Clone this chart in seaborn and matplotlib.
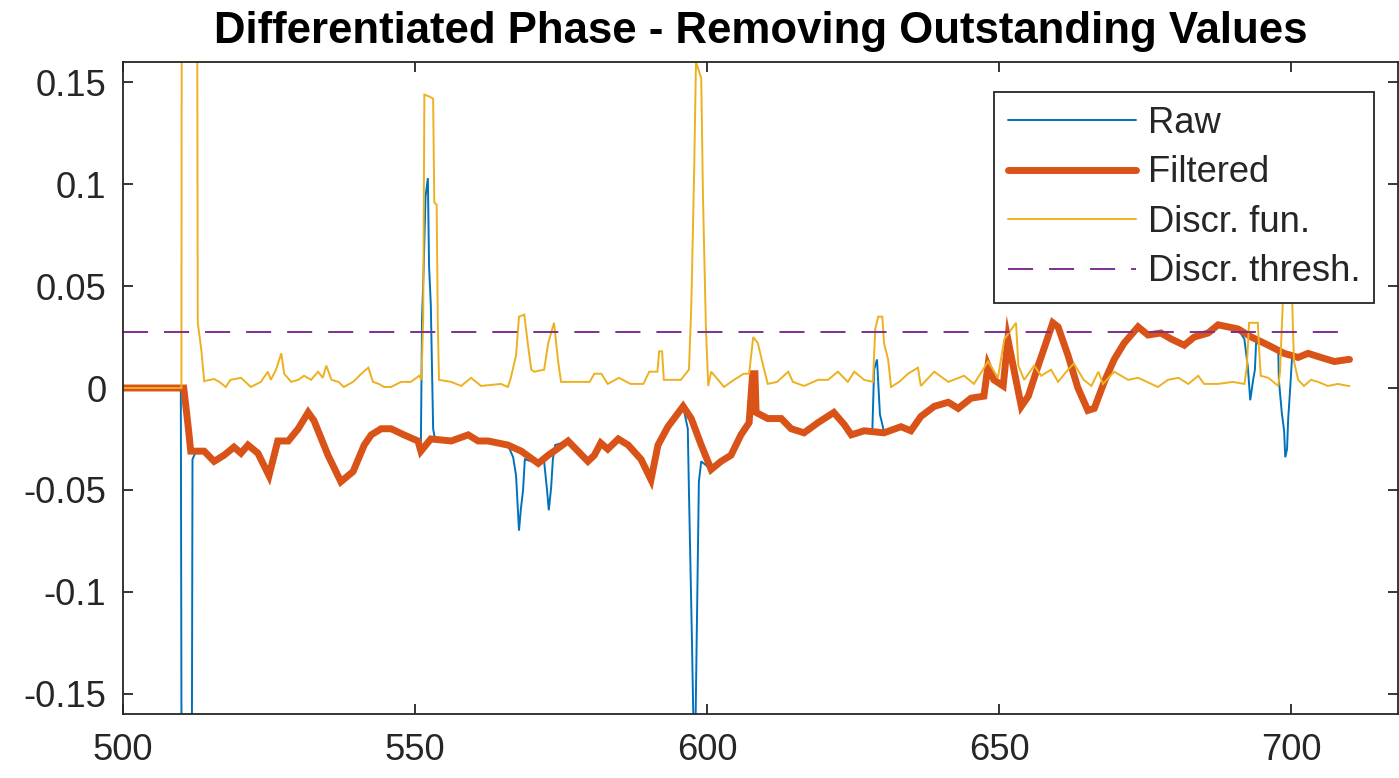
import numpy as np
import pandas as pd
import seaborn as sns
import matplotlib
matplotlib.use("Agg")
import matplotlib.pyplot as plt

# ---------------- data ----------------
filt_x = [500.0, 510.4, 510.8, 511.2, 511.6, 513.9, 515.6, 517.3, 519.0, 520.2,
          521.4, 523.1, 525.0, 526.5, 528.3, 530.0, 531.7, 532.7, 535.1, 537.3,
          539.4, 541.3, 542.5, 544.2, 545.9, 548.1, 550.5, 551.0, 552.7, 556.2,
          559.1, 560.8, 562.5, 565.9, 568.2, 571.1, 572.8, 573.8, 576.2, 577.9,
          579.6, 580.7, 581.8, 583.0, 584.8, 586.5, 588.7, 590.4, 591.6, 593.3,
          595.9, 597.3, 599.0, 600.7, 602.4, 604.1, 605.8, 607.2, 607.8, 608.2,
          608.4, 610.4, 612.7, 614.4, 616.6, 619.0, 621.7, 623.5, 624.7, 626.9,
          630.3, 633.2, 634.9, 636.6, 638.9, 641.3, 643.0, 645.2, 647.4, 648.1,
          649.1, 650.7, 651.5, 652.4, 653.8, 655.0, 656.7, 659.2, 660.1, 661.8,
          663.5, 665.2, 666.3, 668.0, 669.7, 671.4, 673.8, 675.5, 677.7, 679.5,
          681.7, 683.4, 685.8, 687.5, 690.9, 693.2, 696.1, 698.8, 701.2, 702.9,
          705.1, 707.4, 709.8, 710.0]
filt_y = [0.0, 0.0, -0.010, -0.020, -0.031, -0.031, -0.036, -0.033, -0.029, -0.032,
          -0.028, -0.032, -0.043, -0.026, -0.026, -0.020, -0.012, -0.016, -0.033, -0.046,
          -0.041, -0.028, -0.023, -0.020, -0.020, -0.023, -0.026, -0.031, -0.025, -0.026,
          -0.023, -0.026, -0.026, -0.028, -0.031, -0.037, -0.033, -0.031, -0.026, -0.031,
          -0.036, -0.033, -0.027, -0.030, -0.025, -0.028, -0.035, -0.045, -0.028, -0.019,
          -0.009, -0.015, -0.028, -0.040, -0.036, -0.033, -0.023, -0.017, 0.007, 0.007,
          -0.012, -0.015, -0.015, -0.020, -0.022, -0.017, -0.012, -0.018, -0.023, -0.021,
          -0.022, -0.019, -0.021, -0.014, -0.009, -0.007, -0.010, -0.005, -0.004, 0.011,
          0.004, 0.001, 0.024, 0.011, -0.009, -0.004, 0.011, 0.032, 0.030, 0.016,
          0.000, -0.011, -0.010, 0.003, 0.014, 0.022, 0.030, 0.026, 0.027, 0.024,
          0.021, 0.025, 0.027, 0.031, 0.029, 0.025, 0.021, 0.017, 0.015, 0.017,
          0.015, 0.013, 0.014, 0.014]

# raw signal: identical to the filtered one except at the outlier spikes
raw_spike_x = [[509.9, 510.1, 511.7, 511.9, 512.5],
               [551.0, 551.2, 551.5, 551.8, 552.2, 552.4, 552.7, 553.1, 553.4],
               [566.8, 567.3, 567.8, 568.1, 568.5, 568.8],
               [572.1, 572.6, 572.9, 573.3, 573.6, 574.0],
               [596.7, 596.9, 597.4, 597.7, 598.0, 598.3, 598.6, 599.0],
               [628.3, 628.6, 629.1, 629.3, 629.6, 630.1],
               [692.0, 692.6, 693.0, 693.5, 693.8, 694.0],
               [697.8, 697.9, 698.4, 698.8, 699.0, 699.3, 699.5, 699.8, 700.2]]
raw_spike_y = [[0.0, -0.30, -0.30, -0.035, -0.031],
               [-0.028, 0.034, 0.061, 0.094, 0.103, 0.060, 0.041, -0.020, -0.025],
               [-0.034, -0.043, -0.070, -0.060, -0.050, -0.035],
               [-0.036, -0.050, -0.060, -0.049, -0.035, -0.028],
               [-0.020, -0.051, -0.122, -0.170, -0.170, -0.109, -0.046, -0.036],
               [-0.021, 0.009, 0.014, 0.003, -0.013, -0.019],
               [0.024, 0.010, -0.006, 0.004, 0.009, 0.022],
               [0.018, 0.004, -0.012, -0.021, -0.034, -0.030, -0.015, -0.002, 0.017]]

disc_x = [500.0, 510.0, 510.1, 512.6, 512.8, 513.4, 513.9, 515.6, 516.5, 517.6,
          518.4, 520.2, 521.9, 523.6, 524.8, 525.3, 526.2, 527.1, 527.6, 528.8,
          530.0, 531.0, 532.2, 533.4, 534.2, 534.8, 535.7, 536.9, 537.8, 539.4,
          540.8, 542.0, 542.8, 543.8, 544.7, 545.9, 547.6, 549.3, 550.7, 551.1,
          551.4, 551.6, 552.5, 553.1, 553.3, 553.7, 553.9, 554.1, 556.2, 557.9,
          559.6, 561.3, 564.7, 565.9, 566.4, 567.3, 567.8, 568.7, 569.3, 569.9,
          570.4, 572.1, 572.8, 573.8, 574.5, 575.0, 579.9, 580.7, 581.9, 583.0,
          584.9, 586.9, 589.1, 590.1, 591.5, 591.8, 592.3, 592.6, 595.5, 596.9,
          597.3, 597.8, 598.1, 599.0, 599.3, 599.8, 600.2, 600.7, 601.9, 602.9,
          604.6, 606.3, 607.2, 607.9, 608.7, 609.6, 610.4, 612.0, 613.9, 614.7,
          616.6, 619.0, 620.7, 622.4, 624.1, 625.2, 626.9, 628.4, 628.8, 629.3,
          630.0, 630.3, 631.0, 631.5, 632.9, 634.4, 636.1, 636.6, 638.9, 641.3,
          644.0, 645.7, 648.1, 649.8, 650.9, 652.4, 652.9, 653.3, 654.3, 656.0,
          657.2, 658.9, 660.1, 661.8, 662.8, 664.5, 665.8, 667.0, 667.8, 669.7,
          672.1, 673.8, 677.2, 678.9, 680.7, 682.4, 684.1, 685.1, 687.5, 690.0,
          692.0, 692.4, 692.8, 694.3, 694.5, 694.8, 696.1, 697.8, 698.1, 698.5,
          698.9, 700.0, 700.3, 700.5, 701.2, 702.2, 703.4, 704.6, 706.3, 708.0,
          709.8, 710.0]
disc_y = [0.0, 0.0, 0.35, 0.35, 0.032, 0.019, 0.0034, 0.0044, 0.003, 0.0005,
          0.004, 0.005, 0.0005, 0.003, 0.008, 0.004, 0.009, 0.017, 0.007, 0.003,
          0.004, 0.006, 0.004, 0.008, 0.005, 0.011, 0.004, 0.003, 0.0005, 0.003,
          0.007, 0.010, 0.003, 0.002, 0.0005, 0.0005, 0.003, 0.003, 0.006, 0.004,
          0.034, 0.144, 0.143, 0.142, 0.091, 0.090, 0.032, 0.004, 0.003, 0.001,
          0.005, 0.001, 0.002, 0.0005, 0.005, 0.016, 0.035, 0.036, 0.022, 0.009,
          0.008, 0.009, 0.022, 0.032, 0.013, 0.003, 0.003, 0.007, 0.007, 0.002,
          0.005, 0.002, 0.002, 0.008, 0.008, 0.018, 0.018, 0.004, 0.004, 0.009,
          0.040, 0.108, 0.160, 0.152, 0.094, 0.030, 0.001, 0.008, 0.004, 0.0005,
          0.004, 0.007, 0.007, 0.025, 0.022, 0.011, 0.002, 0.003, 0.008, 0.003,
          0.001, 0.004, 0.004, 0.008, 0.003, 0.008, 0.004, 0.003, 0.029, 0.035,
          0.035, 0.022, 0.014, 0.0005, 0.003, 0.007, 0.010, 0.001, 0.008, 0.003,
          0.006, 0.002, 0.013, 0.005, 0.024, 0.030, 0.032, 0.011, 0.004, 0.011,
          0.006, 0.009, 0.003, 0.009, 0.012, 0.004, 0.001, 0.008, 0.002, 0.008,
          0.004, 0.005, 0.0005, 0.004, 0.005, 0.002, 0.006, 0.002, 0.002, 0.003,
          0.002, 0.010, 0.032, 0.032, 0.020, 0.006, 0.005, 0.001, 0.008, 0.037,
          0.065, 0.065, 0.030, 0.013, 0.004, 0.001, 0.004, 0.003, 0.001, 0.002,
          0.001, 0.001]

thresh_x = [500.0, 710.0]
thresh_y = [0.0273, 0.0273]

x_ticks = [500, 550, 600, 650, 700]
y_ticks = [-0.15, -0.1, -0.05, 0, 0.05, 0.1, 0.15]
y_tick_labels = ["-0.15", "-0.1", "-0.05", "0", "0.05", "0.1", "0.15"]
series_names = ["Raw", "Filtered", "Discr. fun.", "Discr. thresh."]
title_text = "Differentiated Phase - Removing Outstanding Values"

# ---------------- build raw series from filtered + spikes ----------------
fx = np.array(filt_x)
fy = np.array(filt_y)
keep = np.ones(len(fx), dtype=bool)
for sx in raw_spike_x:
    keep &= ~((fx >= min(sx)) & (fx <= max(sx)))
rx = np.concatenate([fx[keep]] + [np.array(s) for s in raw_spike_x])
ry = np.concatenate([fy[keep]] + [np.array(s) for s in raw_spike_y])
order = np.argsort(rx, kind="stable")
rx, ry = rx[order], ry[order]

# ---------------- style ----------------
sns.set_theme(style="white")
plt.rcParams["font.family"] = ["Liberation Sans", "DejaVu Sans"]
DARK = "#262626"
FS = 26.2

fig = plt.figure(figsize=(13.99, 7.78), dpi=100)
ax = fig.add_axes([123 / 1399, 1 - 714 / 778, (1398 - 123) / 1399, (714 - 62) / 778])

C_RAW, C_FILT, C_DISC, C_THR = "#0072BD", "#D95319", "#EDB120", "#7E2F8E"

sns.lineplot(x=rx, y=ry, ax=ax, color=C_RAW, lw=1.4, sort=False, estimator=None,
             label=series_names[0])
sns.lineplot(x=fx, y=fy, ax=ax, color=C_FILT, lw=5.0, sort=False, estimator=None,
             label=series_names[1])
sns.lineplot(x=np.array(disc_x), y=np.array(disc_y), ax=ax, color=C_DISC, lw=1.4,
             sort=False, estimator=None, label=series_names[2])
sns.lineplot(x=np.array(thresh_x), y=np.array(thresh_y), ax=ax, color=C_THR, lw=1.4,
             sort=False, estimator=None, label=series_names[3])
thr_line = ax.lines[-1]
thr_line.set_dashes([12.9, 8.2])
for ln in ax.lines:
    ln.set_solid_joinstyle("miter")

ax.set_xlim(500, 718.3)
ax.set_ylim(-0.16, 0.16)
ax.set_xticks(x_ticks)
ax.set_xticklabels([str(t) for t in x_ticks])
ax.set_yticks(y_ticks)
ax.set_yticklabels(y_tick_labels)
ax.set_xlabel("")
ax.set_ylabel("")

ax.tick_params(axis="both", which="both", direction="in", length=7.2, width=1.3,
               color=DARK, labelcolor=DARK, labelsize=FS, top=True, right=True,
               bottom=True, left=True)
ax.tick_params(axis="y", pad=12)
ax.tick_params(axis="x", pad=14)
for sp in ax.spines.values():
    sp.set_visible(True)
    sp.set_color(DARK)
    sp.set_linewidth(1.3)

ax.set_title(title_text, fontsize=31.5, fontweight="bold", color="black", pad=14)

leg = ax.legend(loc="upper right", bbox_to_anchor=((1374 - 123) / 1275, 1 - (92 - 62) / 652),
                borderaxespad=0, fontsize=FS, frameon=True, fancybox=False,
                framealpha=1, handlelength=3.5, handletextpad=0.33,
                borderpad=0.38, labelspacing=0.4)
frame = leg.get_frame()
frame.set_edgecolor(DARK)
frame.set_linewidth(1.3)
for t in leg.get_texts():
    t.set_color(DARK)

fig.savefig("out.png", dpi=100)
